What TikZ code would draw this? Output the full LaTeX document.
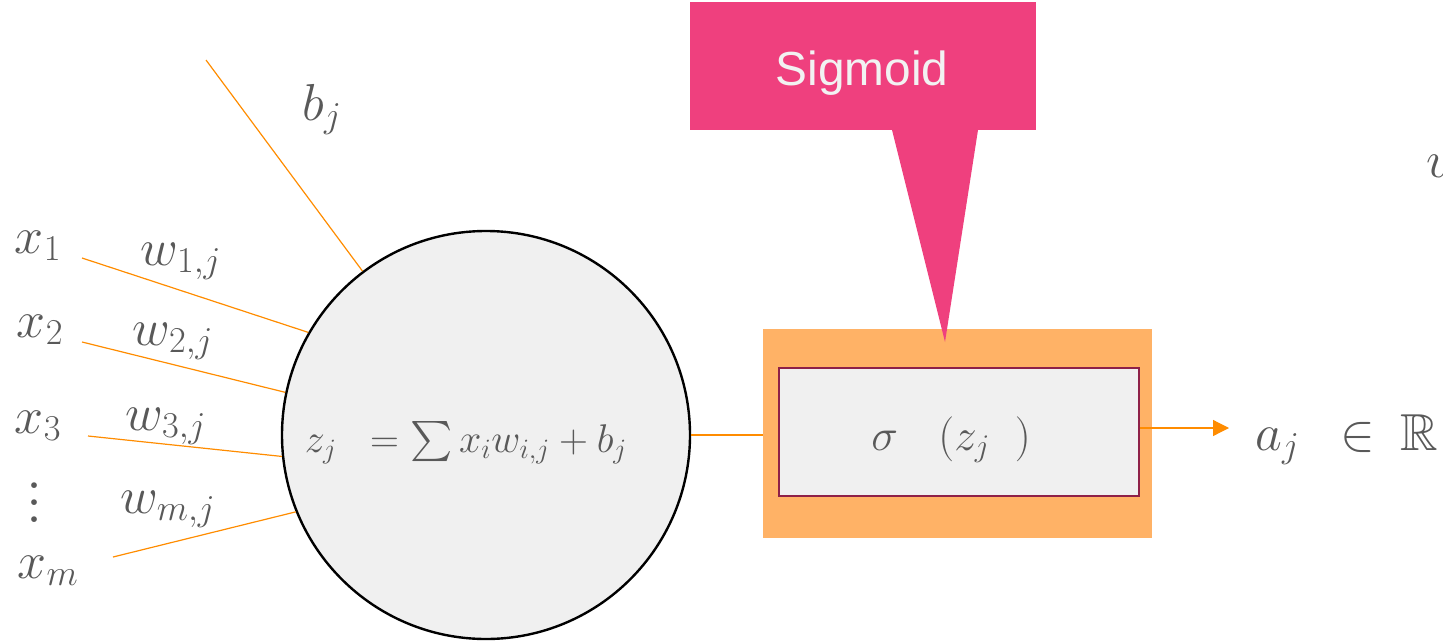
\RequirePackage{fix-cm}
\documentclass[tikz,border=0pt]{standalone}
\usepackage{amssymb}
\usepackage{fontspec}
\newfontfamily\calloutfont{Liberation Sans}
\usetikzlibrary{arrows.meta}

\definecolor{inkgray}{RGB}{89,89,89}
\definecolor{wireorange}{RGB}{255,140,0}
\definecolor{cellgray}{RGB}{240,240,240}
\definecolor{boxorange}{RGB}{255,178,102}
\definecolor{boxborder}{RGB}{142,32,72}
\definecolor{calloutpink}{RGB}{239,64,126}
\definecolor{callouttext}{RGB}{242,242,242}

\begin{document}
\begin{tikzpicture}[x=0.25mm,y=-0.25mm,
  lbl/.style={text=inkgray,inner sep=0,anchor=base,font=\fontsize{37}{44}\selectfont},
  wire/.style={draw=wireorange,line width=0.3mm}]
% 1443 x 643 px, 1 px = 0.25 mm
\useasboundingbox (0,0) rectangle (1443,643);
\clip (0,0) rectangle (1443,643);

% neuron
\node[circle,draw=black,line width=0.6mm,fill=cellgray,minimum size=102mm,inner sep=0] (neuron) at (486,435) {};
\node[lbl,font=\fontsize{28.5}{34}\selectfont] (sumtxt) at (466,452) {$z_j\;\;=\sum x_i w_{i,j}+b_j$};

% inputs
\node[lbl] (x1) at (38,253) {$x_1$};
\node[lbl] (x2) at (40,337) {$x_2$};
\node[lbl] (x3) at (38,433) {$x_3$};
\node[text=inkgray,inner sep=0,font=\fontsize{14}{17}\selectfont,scale=3] (dots) at (35,490) {$\vdots$};
\node[lbl] (xm) at (48,578) {$x_m$};
\node[lbl] (w1) at (181,265) {$w_{1,j}$};
\node[lbl] (w2) at (173,345) {$w_{2,j}$};
\node[lbl] (w3) at (166,430) {$w_{3,j}$};
\node[lbl] (wm) at (168,513) {$w_{m,j}$};
\node[lbl] (bj) at (322,120) {$b_j$};
\node[lbl,anchor=base west] (wcut) at (1426,177) {$w$};

\coordinate (bin) at (206,60);
\coordinate (in1) at (82,258);
\coordinate (in2) at (82,342);
\coordinate (in3) at (88,436);
\coordinate (inm) at (113,557);
\draw[wire] (bin) -- (neuron.127);
\draw[wire] (in1) -- (neuron.150);
\draw[wire] (in2) -- (neuron.168);
\draw[wire] (in3) -- (neuron.186);
\draw[wire] (inm) -- (neuron.202);

% activation
\node[fill=boxorange,minimum width=97.25mm,minimum height=52.25mm,inner sep=0] (actbox) at (957.5,433.5) {};
\node[draw=boxborder,fill=cellgray,line width=0.6mm,minimum width=90mm,minimum height=32mm,inner sep=0] (sigbox) at (959,432) {};
\node[lbl,font=\fontsize{32}{38}\selectfont] (sigtxt) at (951,450) {$\sigma\hspace{0.9em}(z_j\hspace{0.55em})$};
\draw[wire] (neuron.east) -- (neuron.east -| actbox.west);

% output
\coordinate (outtip) at (1229,428);
\draw[wire,-{Triangle[length=4mm,width=4mm]}] (outtip -| sigbox.east) -- (outtip);
\node[lbl,anchor=base west] (aj) at (1255,450) {$a_j$};
\node[lbl,anchor=base west] (elem) at (1340,450) {$\in$};
\node[lbl,anchor=base west] (reals) at (1400,450) {$\mathbb{R}$};

% callout
\node[fill=calloutpink,minimum width=86.5mm,minimum height=32mm,inner sep=0] (callout) at (863,66) {};
\coordinate (tip) at (945,342);
\fill[calloutpink] (892,130) -- (978,130) -- (tip) -- cycle;
\node[anchor=base,inner sep=0,text=callouttext,font=\calloutfont\fontsize{34}{40}\selectfont] (sigmoid) at (862,85) {Sigmoid};
\end{tikzpicture}
\end{document}
